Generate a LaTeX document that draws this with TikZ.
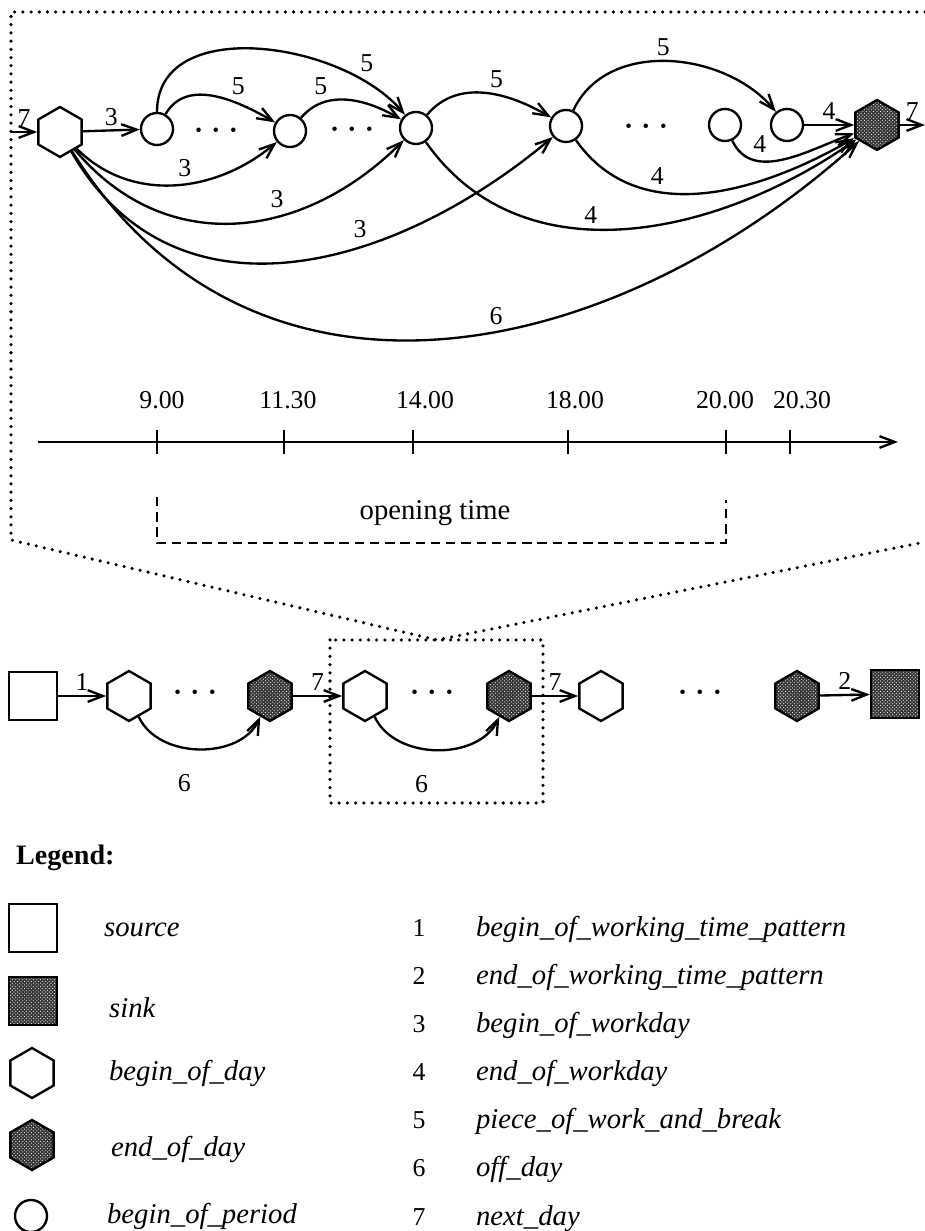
\documentclass[tikz,border=0pt]{standalone}
\usepackage{fontspec}
\setmainfont{Liberation Serif}
\usepackage{tikz}
\usetikzlibrary{shapes.geometric, arrows.meta, patterns, positioning}
\newcommand{\dotsrow}{{\fontsize{16}{16}\selectfont\textbullet\hspace{0.58em}\textbullet\hspace{0.58em}\textbullet}}
\tikzset{every node/.style={font=\fontsize{22}{26}\selectfont}, % Big print, as in the scan
period/.style={ % begin_of_period
circle, draw, line width=2pt,
minimum size=0.96cm, inner sep=0pt},
bday/.style={ % begin_of_day
regular polygon, regular polygon sides=6, shape border rotate=30,
draw, line width=2pt, minimum size=1.5cm, inner sep=0pt},
shaded/.style={preaction={fill=black!80}, pattern=crosshatch dots, pattern color=white},
eday/.style={bday, shaded}, % end_of_day
srcbox/.style={ % source
draw, line width=2pt, minimum size=1.44cm, inner sep=0pt},
snkbox/.style={srcbox, shaded}, % sink
txt/.style={font=\fontsize{24.5}{28}\selectfont\itshape},
frame/.style={line width=3pt, dash pattern=on 0pt off 7pt, line cap=round},
every edge/.style={ % Sets the properties for each connector
draw,->,>={Straight Barb[length=13pt,width=10pt]},
auto,line width=2pt}}

\begin{document}
\begin{tikzpicture}[x=0.03cm, y=0.03cm]
    \useasboundingbox (0,0) rectangle (925,1231);

    % one day, zoomed
    \node[bday] (bod) at (60,1099) {};
    \node[period] (p1) at (157,1102) {};
    \node[period] (p2) at (290,1100) {};
    \node[period] (p3) at (416,1103) {};
    \node[period] (p4) at (566,1105) {};
    \node[period] (p5) at (725,1106) {};
    \node[period] (p6) at (787,1106) {};
    \node[eday] (eod) at (877,1106) {};
    \node (d1) at (216,1099) {\dotsrow};
    \node (d2) at (352,1100) {\dotsrow};
    \node (d3) at (646,1103) {\dotsrow};
    \coordinate (in7) at (11,1099);
    \coordinate (out7) at (925,1106);

    \draw (in7) edge node {7} (bod);
    \draw (bod) edge node {3} (p1);
    \draw (eod) edge node {7} (out7);
    \draw (p6) edge node {4} (eod);

    \draw (p1) edge[out=60, in=150] node[pos=0.6] {5} (p2);
    \draw (p1) edge[out=90, in=130] node[pos=0.8] {5} (p3);
    \draw (p2) edge[out=50, in=150] node[pos=0.35] {5} (p3);
    \draw (p3) edge[out=50, in=150] node {5} (p4);
    \draw (p4) edge[out=65, in=130] node[pos=0.48] {5} (p6);

    \draw (bod) edge[out=-45, in=220] node[pos=0.6] {3} (p2);
    \draw (bod) edge[out=-50, in=225, looseness=1.1] node[pos=0.65] {3} (p3);
    \draw (bod) edge[out=-60, in=220, looseness=1.1] node[pos=0.65] {3} (p4);
    \draw (bod) edge[out=-58, in=222, looseness=1.1] node[pos=0.58] {6} (eod);
    \draw (p3) edge[out=-55, in=215] node[pos=0.4] {4} (eod);
    \draw (p4) edge[out=-55, in=210] node[pos=0.3] {4} (eod);
    \draw (p5) edge[out=-65, in=200] node[pos=0.2] {4} (eod);

    % time axis
    \coordinate (t0) at (38,789);
    \coordinate (t1) at (898,789);
    \draw[line width=2pt, -{Straight Barb[length=13pt,width=10pt]}] (t0) -- (t1);
    \foreach \x/\lx/\lbl [count=\i] in {157/162/9.00, 284/288/11.30, 413/425/14.00, 568/575/18.00, 726/725/20.00, 790/802/20.30} {
        \draw[line width=2pt] (\x,777) -- (\x,801);
        \node[anchor=base] (tm\i) at (\lx,822) {\lbl};
    }
    \draw[line width=2pt, dash pattern=on 8pt off 5pt] (157,734) -- (157,688) -- (726,688) -- (726,731);
    \node[anchor=base, font=\fontsize{24.5}{28}\selectfont] (open) at (435,711) {opening time};

    % zoom frame
    \draw[frame] (925,1219) -- (11,1219) -- (11,691) -- (437,591) -- (925,689);
    \draw[frame] (330,591) rectangle (543,428);

    % the whole pattern
    \node[srcbox] (src) at (33,535) {};
    \node[bday] (h1) at (129,535) {};
    \node (b1) at (195,537) {\dotsrow};
    \node[eday] (e1) at (270,535) {};
    \node[bday] (h2) at (365,535) {};
    \node (b2) at (432,537) {\dotsrow};
    \node[eday] (e2) at (509,535) {};
    \node[bday] (h3) at (601,535) {};
    \node (b3) at (700,537) {\dotsrow};
    \node[eday] (e3) at (797,535) {};
    \node[snkbox] (snk) at (895,537) {};

    \draw (src) edge node {1} (h1);
    \draw (e1) edge node {7} (h2);
    \draw (e2) edge node {7} (h3);
    \draw (e3) edge node {2} (snk);
    \draw (h1) edge[out=-65, in=245] node[pos=0.4, below=0.65cm] {6} (e1);
    \draw (h2) edge[out=-65, in=245] node[pos=0.4, below=0.65cm] {6} (e2);

    % legend
    \node[anchor=base west, font=\fontsize{24}{28}\selectfont\bfseries] (leg) at (12,366) {Legend:};
    \node[srcbox] (lsrc) at (33,303) {};
    \node[snkbox] (lsnk) at (33,230) {};
    \node[bday] (lbday) at (32,158) {};
    \node[eday] (leday) at (32,86) {};
    \node[period] (lper) at (31,15) {};
    \node[txt, anchor=base west] (tsrc) at (100,294) {source};
    \node[txt, anchor=base west] (tsnk) at (105,213) {sink};
    \node[txt, anchor=base west] (tbday) at (105,150) {begin\_of\_day};
    \node[txt, anchor=base west] (teday) at (107,74) {end\_of\_day};
    \node[txt, anchor=base west] (tper) at (103,7) {begin\_of\_period};

    \foreach \lbl [count=\i] in {begin\_of\_working\_time\_pattern, end\_of\_working\_time\_pattern,
        begin\_of\_workday, end\_of\_workday, piece\_of\_work\_and\_break, off\_day, next\_day} {
        \node[anchor=base] (n\i) at (419,342-48*\i) {\i};
        \node[txt, anchor=base west] (k\i) at (472,342-48*\i) {\lbl};
    }

\end{tikzpicture}
\end{document}
